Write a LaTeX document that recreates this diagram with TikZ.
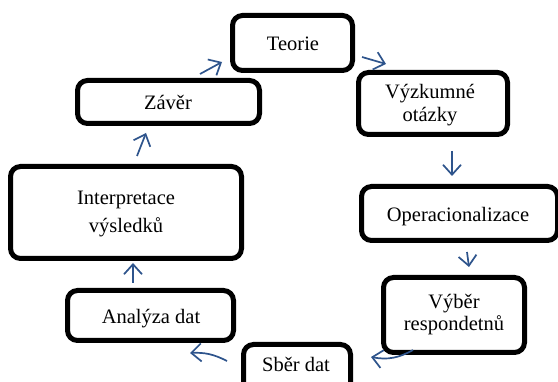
\documentclass[tikz,border=0pt]{standalone}
\usepackage{fontspec}
\setmainfont{Liberation Serif}
\usetikzlibrary{arrows.meta}
\definecolor{arrblue}{RGB}{46,84,140}
\tikzset{
  box/.style={draw=black, line width=5pt, rounded corners=10pt, fill=white, inner sep=0pt},
  txt/.style={anchor=base, inner sep=0pt, font=\fontsize{20.5}{23}\selectfont},
  flow/.style={draw=arrblue, line width=1.7pt,
    -{Straight Barb[length=10pt,width=18pt]}}
}
\newcommand{\boxat}[5]{% name, x1, y1, x2, y2
  \node[box, minimum width={#4-#2-5}, minimum height={#5-#3-5}] (#1) at ({(#2+#4)/2},{(#3+#5)/2}) {};}
\begin{document}
\begin{tikzpicture}[x=1pt,y=-1pt]
\useasboundingbox (0,0) rectangle (558,382);
\clip (0,0) rectangle (558,382);
\fill[white] (0,0) rectangle (558,382);
\boxat{teorie}{230}{13}{355}{73}
\boxat{vyzk}{356}{70}{510}{137}
\boxat{zaver}{75}{78}{262}{126}
\boxat{interp}{8}{164}{244}{261}
\boxat{oper}{359}{184}{560}{243}
\boxat{vyber}{381}{275}{527}{355}
\boxat{analyza}{65}{288}{236}{343}
\boxat{sber}{241}{342}{353}{395}
% texts
\node[txt] (teorie-t) at (293,51) {Teorie};
\node[txt] (vyzk-t1) at (430,99) {Výzkumné};
\node[txt] (vyzk-t2) at (430,122) {otázky};
\node[txt] (zaver-t) at (168,110) {Závěr};
\node[txt] (interp-t1) at (126,205) {Interpretace};
\node[txt] (interp-t2) at (126,233) {výsledků};
\node[txt] (oper-t) at (458,222) {Operacionalizace};
\node[txt] (vyber-t1) at (454,309) {Výběr};
\node[txt] (vyber-t2) at (454,331) {respondetnů};
\node[txt] (analyza-t) at (151,324) {Analýza dat};
\node[txt] (sber-t) at (296,372) {Sběr dat};
% connector end points
\coordinate (a1s) at (200,74);  \coordinate (a1e) at (222,62);
\coordinate (a2s) at (362,57);  \coordinate (a2e) at (386,64);
\coordinate (a3s) at (452,151); \coordinate (a3e) at (452,176);
\coordinate (a4s) at (467,252); \coordinate (a4e) at (469,267);
\coordinate (a5s) at (413,350); \coordinate (a5e) at (371,357);
\coordinate (a6s) at (227,361); \coordinate (a6e) at (190,353);
\coordinate (a7s) at (133,283); \coordinate (a7e) at (133,263);
\coordinate (a8s) at (137,156); \coordinate (a8e) at (146,133);
\draw[flow] (a2s) -- (a2e);
\draw[flow] (a3s) -- (a3e);
\draw[flow] (a4s) -- (a4e);
\draw[flow] (a5s) to[bend left=20] (a5e);
\draw[flow] (a6s) to[bend right=15] (a6e);
\draw[flow] (a7s) -- (a7e);
\draw[flow] (a8s) -- (a8e);
\draw[flow] (a1s) -- (a1e);
\end{tikzpicture}
\end{document}
